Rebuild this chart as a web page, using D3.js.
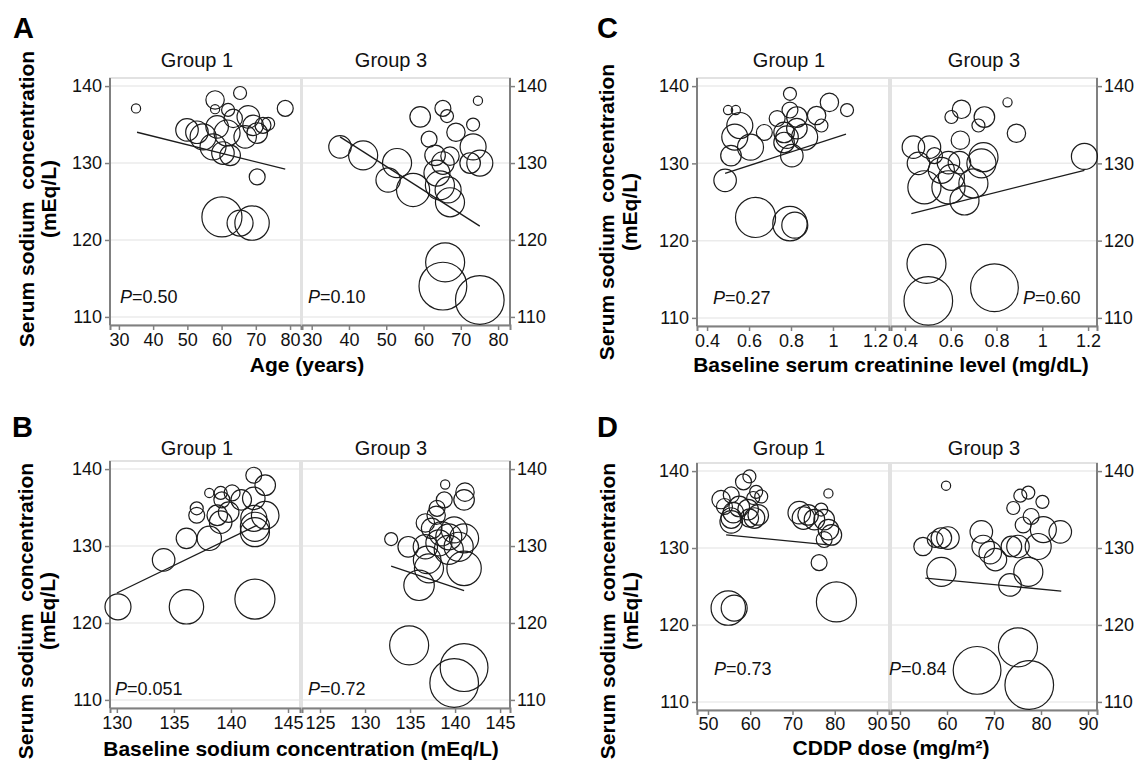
<!DOCTYPE html>
<html>
<head>
<style>
  body { margin: 0; background: #fff; }
  svg { font-family: "Liberation Sans", Arial, sans-serif; }
</style>
</head>
<body>
<svg width="1138" height="762"></svg>
<script src="https://d3js.org/d3.v7.min.js"></script>
<script>
// each point: [x value, serum sodium (mEq/L), sodium drop used as bubble weight]
const ageG1 = [
  [35, 137.1, 1], [65.4, 139.1, 2], [58.1, 138.2, 4], [78.6, 137.1, 3], [58.1, 137.0, 1],
  [61.9, 136.9, 2], [63.4, 135.8, 4], [67.8, 136, 6], [49.9, 134.3, 6], [52.8, 134, 6],
  [54.6, 133.4, 8], [58.7, 134.7, 6], [61.6, 133.9, 8], [69.2, 134.9, 5], [70.4, 133.9, 5],
  [72.1, 134.9, 3], [73.6, 135.1, 2], [57.5, 132.1, 8], [60.4, 131.3, 6], [62.5, 131, 5],
  [66.9, 133.4, 6], [70.4, 128.2, 3], [60.1, 123, 19], [65.4, 122.2, 8], [68.9, 122.2, 14]
];
const ageG3 = [
  [37.6, 132.1, 6], [43.8, 131, 10], [52.9, 130, 10], [50.5, 127.8, 7], [57.2, 126.5, 13],
  [59.1, 136, 5], [65.2, 137.1, 3], [66.3, 136.1, 2], [74.6, 138.1, 1], [73.3, 135, 2],
  [68.7, 134, 4], [61.5, 133.1, 3], [63.1, 131, 5], [67.1, 130.9, 4], [73.3, 132.1, 8],
  [75.1, 130, 8], [72.5, 130, 5], [65.2, 130, 6], [63.6, 128.7, 8], [66.6, 126.5, 8],
  [64.4, 127.1, 10], [67.1, 124.9, 10], [65.8, 117.1, 18], [65.2, 114, 27], [75.1, 112.2, 28]
];
const sodiumG1 = [
  [142, 139.2, 3], [143, 137.9, 5], [138.1, 136.9, 1], [139.1, 136.9, 2], [140.1, 136.9, 3],
  [139.2, 136, 3], [137, 134.9, 2], [137, 134, 3], [140.9, 136, 5], [142, 136.2, 6],
  [143, 134, 9], [138.8, 134, 5], [139.8, 134.4, 5], [139.1, 133.1, 6], [142, 133.6, 8],
  [142.1, 132.5, 10], [142.1, 131.8, 10], [136.1, 131, 5], [138.1, 131, 7], [134.1, 128.2, 6],
  [130.1, 122.1, 8], [136.1, 122.1, 14], [142.1, 123.1, 19]
];
const sodiumG3 = [
  [138.9, 138, 1], [141.1, 137, 4], [141, 136, 5], [138.8, 136, 3], [138, 134.9, 3],
  [137.9, 134, 4], [136.7, 133, 4], [132.9, 130.9, 2], [134.8, 129.9, 5], [137.4, 132.3, 5],
  [138.5, 131.6, 7], [139.3, 131.2, 8], [139.9, 132.1, 8], [141, 131, 10], [136.7, 129.9, 7],
  [138.2, 130.4, 8], [139.3, 129.5, 10], [140.4, 129.9, 10], [136.9, 128.2, 9], [137.1, 127.1, 10],
  [141, 127.1, 14], [136, 124.9, 11], [134.9, 117.1, 18], [141, 114.2, 27], [139.9, 112.2, 28]
];
const creatG1 = [
  [0.50, 136.9, 1], [0.537, 136.9, 1], [0.795, 139, 2], [0.983, 137.9, 4], [1.067, 136.9, 2],
  [0.795, 136.9, 3], [0.734, 135.8, 3], [0.922, 136.2, 4], [0.945, 134.9, 2], [0.828, 136, 5],
  [0.556, 134.9, 8], [0.532, 133.4, 8], [0.607, 132.1, 8], [0.673, 134, 3], [0.767, 134, 5],
  [0.781, 133.4, 6], [0.828, 134.5, 5], [0.865, 133.4, 8], [0.767, 132.7, 5], [0.804, 131, 6],
  [0.514, 131, 5], [0.486, 127.8, 6], [0.631, 123, 19], [0.795, 122.2, 14], [0.818, 122, 8]
];
const creatG3 = [
  [0.848, 137.9, 1], [0.647, 137, 4], [0.603, 136, 2], [0.747, 136, 5], [0.721, 134.9, 2],
  [0.887, 133.9, 4], [1.184, 130.9, 8], [0.642, 133, 4], [0.437, 132.1, 6], [0.507, 132.1, 6],
  [0.459, 130, 6], [0.529, 131, 3], [0.59, 130.1, 6], [0.638, 130.1, 6], [0.743, 130.8, 10],
  [0.734, 130, 10], [0.559, 129.1, 8], [0.603, 128.2, 8], [0.485, 126.9, 13], [0.699, 127.4, 10],
  [0.59, 126.9, 13], [0.66, 125.2, 10], [0.494, 117, 18], [0.502, 112.2, 28], [0.791, 113.9, 27]
];
const doseG1 = [
  [59.8, 139.3, 2], [58.4, 138.6, 3], [61.4, 137.3, 2], [62.6, 136.7, 2], [60.7, 136.5, 2],
  [55.5, 136.9, 3], [53.1, 136.3, 4], [53.9, 135.4, 3], [57.4, 135.4, 5], [59.5, 135, 5],
  [61.9, 134.3, 5], [56, 134.6, 5], [55.5, 133.9, 5], [59.8, 133.9, 4], [55.5, 133.4, 6],
  [61, 133.9, 5], [78.5, 137.1, 1], [71.6, 134.6, 6], [73.7, 134.3, 5], [76.8, 135, 2],
  [75.2, 133.7, 5], [72.6, 133.9, 6], [77.5, 133.7, 5], [78.5, 132.4, 5], [79.2, 131.7, 5],
  [77.5, 131.1, 3], [76.3, 128.1, 3], [80.4, 123, 19], [54.8, 122.2, 14], [56.2, 122.2, 8]
];
const doseG3 = [
  [59.8, 138.1, 1], [75.6, 136.8, 2], [77.3, 137.2, 2], [80.3, 136, 2], [74.1, 135.2, 2],
  [76.2, 133, 3], [77.9, 134.1, 3], [84.1, 132.1, 6], [80.5, 132.4, 8], [67.3, 132.1, 6],
  [67.7, 130.2, 6], [54.9, 130.2, 4], [57.5, 131.1, 3], [58.8, 131.3, 5], [60.2, 131.3, 6],
  [69.2, 129.4, 6], [70.3, 128.5, 6], [73.7, 130.2, 5], [75.1, 130.2, 6], [79.4, 130.2, 8],
  [77.3, 126.9, 10], [58.8, 126.9, 10], [73.4, 125.2, 6], [75.1, 117.1, 18], [66.4, 114.1, 27],
  [77.5, 112.2, 28]
];

// fitted lines, [[x0, y0], [x1, y1]] per group
const fitAge = [[[35.3, 134.0], [78.6, 129.2]], [[37.6, 133.4], [75.1, 121.8]]];
const fitSodium = [[[130, 123.9], [142.3, 132.7]], [[132.9, 127.4], [141, 124.2]]];
const fitCreat = [[[0.486, 128.7], [1.062, 133.8]], [[0.428, 123.5], [1.184, 129.1]]];
const fitDose = [[[54.3, 131.7], [78.5, 130.4]], [[55.4, 126.1], [84.3, 124.4]]];

const pAge = ["0.50", "0.10"];
const pSodium = ["0.051", "0.72"];
const pCreat = ["0.27", "0.60"];
const pDose = ["0.73", "0.84"];

const groups = ["Group 1", "Group 3"];
const yTicks = [110, 120, 130, 140];
const ageTicks = [30, 40, 50, 60, 70, 80];
const sodiumTicks1 = [130, 135, 140, 145];
const sodiumTicks3 = [125, 130, 135, 140, 145];
const creatTicks = [0.4, 0.6, 0.8, 1, 1.2];
const doseTicks = [50, 60, 70, 80, 90];

const svg = d3.select("svg");
const yDomain = [108.95, 141.05];
const rScale = d3.scaleSqrt().domain([0, 32]).range([0, 26]);
const axisColor = "#808080";
const gridColor = "#ebebeb";

const panels = [
  {
    letter: "A", letterPos: [13, 38], xTitle: "Age (years)", xTitlePos: [307, 372],
    data: [ageG1, ageG3], fits: fitAge, pvals: pAge,
    ticks: [ageTicks, ageTicks], domains: [[27.4, 83.2], [27.4, 83.2]],
    facets: [[110, 301], [302, 510]], top: 78, bottom: 325, tickPad: 3,
    yLab: [34, 56, 199], titleOff: [87, 89], titleY: 67,
    pPos: [[10, 303], [6, 303]]
  },
  {
    letter: "B", letterPos: [12, 437], xTitle: "Baseline sodium concentration (mEq/L)", xTitlePos: [301, 756],
    data: [sodiumG1, sodiumG3], fits: fitSodium, pvals: pSodium,
    ticks: [sodiumTicks1, sodiumTicks3], domains: [[129.4, 146.05], [123.0, 146.1]],
    facets: [[110, 300], [302, 510]], top: 461, bottom: 708, tickPad: 3,
    yLab: [33, 55, 611], titleOff: [87, 89], titleY: 455,
    pPos: [[5, 695], [6, 695]]
  },
  {
    letter: "C", letterPos: [597, 38], xTitle: "Baseline serum creatinine level (mg/dL)", xTitlePos: [891, 372],
    data: [creatG1, creatG3], fits: fitCreat, pvals: pCreat,
    ticks: [creatTicks, creatTicks], domains: [[0.352, 1.267], [0.339, 1.239]],
    facets: [[697, 889], [891, 1097]], top: 78, bottom: 326, tickPad: 3,
    yLab: [614, 637, 212], titleOff: [92, 93], titleY: 67,
    pPos: [[16, 304], [132, 304]]
  },
  {
    letter: "D", letterPos: [597, 437], xTitle: "CDDP dose (mg/m\u00B2)", xTitlePos: [891, 755],
    data: [doseG1, doseG3], fits: fitDose, pvals: pDose,
    ticks: [doseTicks, doseTicks], domains: [[47.4, 92.84], [48.09, 91.91]],
    facets: [[697, 889], [891, 1097]], top: 463, bottom: 710, tickPad: 2,
    yLab: [615, 638, 611], titleOff: [92, 93], titleY: 455,
    pPos: [[17, 675], [-2, 675]]
  }
];

function styleAxis(g) {
  g.attr("font-size", 18).attr("font-family", "Liberation Sans, Arial, sans-serif");
  g.select(".domain").attr("stroke", axisColor).attr("stroke-width", 2);
  g.selectAll(".tick line").attr("stroke", axisColor).attr("stroke-width", 1.5);
  g.selectAll(".tick text").attr("fill", "#111");
}

const fmt = d => d3.format("~g")(d);

panels.forEach(p => {
  const panel = svg.append("g");
  const y = d3.scaleLinear().domain(yDomain).range([p.bottom, p.top]);

  p.facets.forEach((fx, i) => {
    const x = d3.scaleLinear().domain(p.domains[i]).range(fx);
    const facet = panel.append("g");

    // grid lines
    facet.selectAll(".grid")
      .data(yTicks)
      .join("line")
      .attr("x1", fx[0]).attr("x2", fx[1])
      .attr("y1", d => y(d)).attr("y2", d => y(d))
      .attr("stroke", gridColor).attr("stroke-width", 1.5);

    // facet frame
    facet.append("rect")
      .attr("x", fx[0]).attr("y", p.top)
      .attr("width", fx[1] - fx[0]).attr("height", p.bottom - p.top)
      .attr("fill", "none").attr("stroke", "#e2e2e2").attr("stroke-width", 2);

    // x axis
    facet.append("g")
      .attr("transform", `translate(0,${p.bottom})`)
      .call(d3.axisBottom(x).tickValues(p.ticks[i]).tickFormat(fmt).tickSize(5).tickPadding(p.tickPad))
      .call(styleAxis);

    if (i === 0) {
      facet.append("g")
        .attr("transform", `translate(${fx[0]},0)`)
        .call(d3.axisLeft(y).tickValues(yTicks).tickSize(5).tickPadding(3))
        .call(styleAxis)
        .call(g => g.select(".domain").attr("d", `M0,${p.top}V${p.bottom}`));
    } else {
      facet.append("g")
        .attr("transform", `translate(${fx[1]},0)`)
        .call(d3.axisRight(y).tickValues(yTicks).tickSize(5).tickPadding(2))
        .call(styleAxis)
        .call(g => g.select(".domain").attr("d", `M0,${p.top}V${p.bottom}`));
    }

    // bubbles
    facet.append("g")
      .selectAll("circle")
      .data(p.data[i])
      .join("circle")
      .attr("cx", d => x(d[0]))
      .attr("cy", d => y(d[1]))
      .attr("r", d => rScale(d[2]))
      .attr("fill", "none")
      .attr("stroke", "#1c1c1c")
      .attr("stroke-width", 1.2);

    // fitted line
    facet.append("path")
      .datum(p.fits[i])
      .attr("d", d3.line().x(d => x(d[0])).y(d => y(d[1])))
      .attr("stroke", "#1c1c1c")
      .attr("stroke-width", 1.3)
      .attr("fill", "none");

    // facet title
    facet.append("text")
      .attr("x", fx[0] + p.titleOff[i])
      .attr("y", p.titleY)
      .attr("text-anchor", "middle")
      .attr("font-size", 20)
      .attr("fill", "#111")
      .text(groups[i]);

    // P value
    const pt = facet.append("text")
      .attr("x", fx[0] + p.pPos[i][0])
      .attr("y", p.pPos[i][1])
      .attr("font-size", 18)
      .attr("fill", "#111");
    pt.append("tspan").attr("font-style", "italic").text("P");
    pt.append("tspan").text("=" + p.pvals[i]);
  });

  // panel letter
  panel.append("text")
    .attr("x", p.letterPos[0]).attr("y", p.letterPos[1])
    .attr("font-size", 29).attr("font-weight", "bold")
    .text(p.letter);

  // y title, two lines
  const cy = p.yLab[2];
  panel.append("text")
    .attr("transform", `translate(${p.yLab[0]},${cy}) rotate(-90)`)
    .attr("text-anchor", "middle")
    .attr("font-size", 21).attr("font-weight", "bold")
    .style("white-space", "pre")
    .text("Serum sodium  concentration");
  panel.append("text")
    .attr("transform", `translate(${p.yLab[1]},${cy}) rotate(-90)`)
    .attr("text-anchor", "middle")
    .attr("font-size", 21).attr("font-weight", "bold")
    .text("(mEq/L)");

  // x title
  panel.append("text")
    .attr("x", p.xTitlePos[0]).attr("y", p.xTitlePos[1])
    .attr("text-anchor", "middle")
    .attr("font-size", 21).attr("font-weight", "bold")
    .text(p.xTitle);
});
</script>
</body>
</html>
